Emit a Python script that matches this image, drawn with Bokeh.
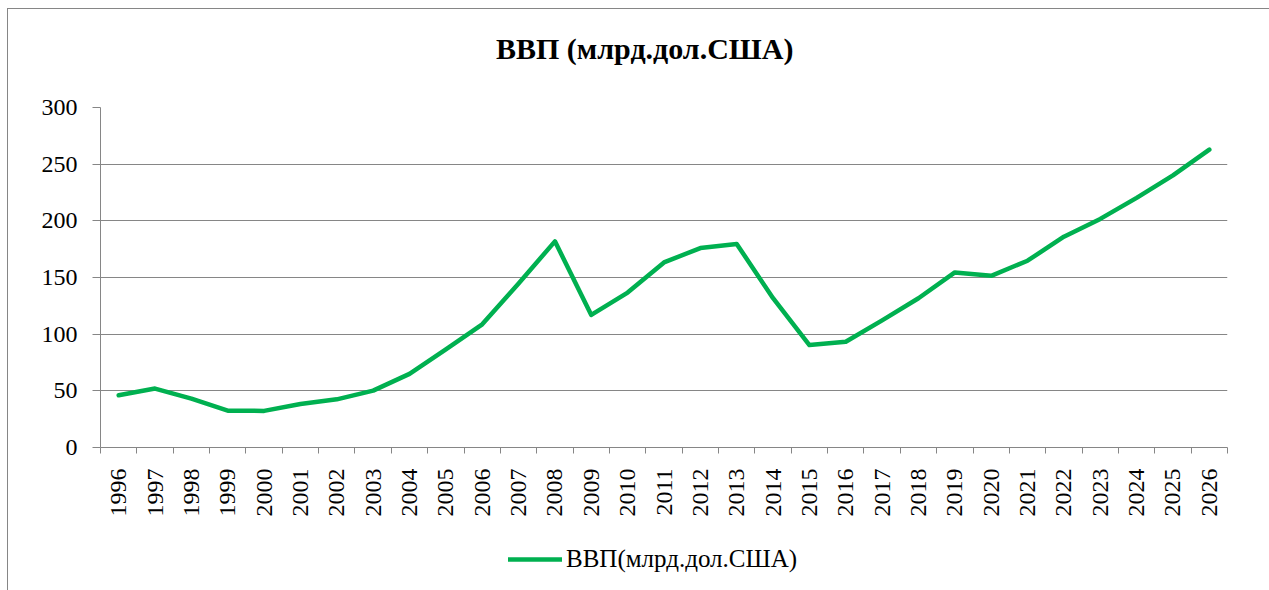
import math
from bokeh.plotting import figure
from bokeh.layouts import column
from bokeh.models import Range1d, FixedTicker, Legend, LegendItem, Label
from bokeh.embed import file_html
from bokeh.resources import INLINE

# ---- data ----
years = list(range(1996, 2027))
gdp = [46.1, 52.0, 43.1, 32.5, 32.3, 38.4, 42.5, 50.2, 65.0, 86.5,
       108.7, 144.7, 181.9, 117.0, 136.7, 163.3, 176.0, 179.6, 131.7, 90.4,
       93.3, 112.2, 131.7, 154.5, 151.5, 164.8, 186.0, 201.7, 220.3, 240.1,
       262.9]
y_ticks = [0, 50, 100, 150, 200, 250, 300]
title_text = "ВВП (млрд.дол.США)"
series_name = "ВВП(млрд.дол.США)"

GRID = "#868686"
GREEN = "#00B050"
FONT = "Liberation Serif"
W = 1261
BL, BR = 92, 42


def strip(height, x_range, y_range):
    f = figure(width=W, height=height, output_backend="svg", toolbar_location=None,
               x_range=x_range, y_range=y_range,
               x_axis_location=None, y_axis_location=None,
               min_border=0, min_border_left=BL, min_border_right=BR,
               min_border_top=0, min_border_bottom=0)
    f.outline_line_color = None
    f.xgrid.visible = False
    f.ygrid.visible = False
    f.background_fill_color = "white"
    f.border_fill_color = "white"
    return f


# ---- title strip ----
pt = strip(64, Range1d(years[0] - 0.5, years[-1] + 0.5), Range1d(0, 64))
pt.add_layout(Label(x=2010.47, y=25, text=title_text, text_font=FONT,
                    text_font_size="30px", text_font_style="bold",
                    text_align="center", text_baseline="middle", text_color="black"))

# ---- main chart ----
p = figure(frame_width=1127, frame_height=340, output_backend="svg", toolbar_location=None,
           x_range=Range1d(years[0] - 0.5, years[-1] + 0.5),
           y_range=Range1d(y_ticks[0], y_ticks[-1]),
           min_border_left=BL, min_border_right=BR,
           min_border_top=34, min_border_bottom=83)
p.title = None
p.outline_line_color = None
p.background_fill_color = "white"
p.border_fill_color = "white"

xa = p.below[0]
ya = p.left[0]

# x axis: labels at year centres, tick marks at category boundaries
xa.ticker = FixedTicker(ticks=years, minor_ticks=[y - 0.5 for y in years] + [years[-1] + 0.5])
xa.major_tick_out = 0
xa.major_tick_in = 0
xa.minor_tick_out = 6
xa.minor_tick_in = 0
xa.minor_tick_line_color = GRID
xa.axis_line_color = GRID
xa.major_label_orientation = math.pi / 2
xa.major_label_standoff = 15
xa.major_label_text_font = FONT
xa.major_label_text_font_size = "24px"
xa.major_label_text_color = "black"

ya.ticker = FixedTicker(ticks=y_ticks)
ya.major_tick_out = 8
ya.major_tick_in = 0
ya.minor_tick_out = 0
ya.minor_tick_in = 0
ya.major_tick_line_color = GRID
ya.axis_line_color = GRID
ya.major_label_standoff = 15
ya.major_label_text_font = FONT
ya.major_label_text_font_size = "24px"
ya.major_label_text_color = "black"

p.xgrid.grid_line_color = None
p.ygrid.grid_line_color = GRID
p.ygrid.grid_line_width = 1

p.line(years, gdp, line_color=GREEN, line_width=4.5, line_join="round", line_cap="round")

# ---- legend strip (series drawn out of view; only its legend swatch shows) ----
pl = strip(60, Range1d(0, 1), Range1d(0, 1))
swatch = pl.line(years, gdp, line_color=GREEN, line_width=4.5, line_cap="round")
legend = Legend(items=[LegendItem(label=series_name, renderers=[swatch])],
                location=(408, 17), orientation="horizontal",
                glyph_width=54, glyph_height=28, label_height=28,
                label_standoff=4, padding=0, spacing=0, margin=0,
                border_line_color=None, background_fill_alpha=0,
                label_text_font=FONT, label_text_font_size="25px",
                label_text_color="black")
pl.add_layout(legend)

layout = column(pt, p, pl, spacing=0,
                styles={"margin-left": "7px", "margin-top": "8px",
                        "border-top": "1px solid #868686", "border-left": "1px solid #868686"})

open("out.html", "w").write(file_html(layout, INLINE))
